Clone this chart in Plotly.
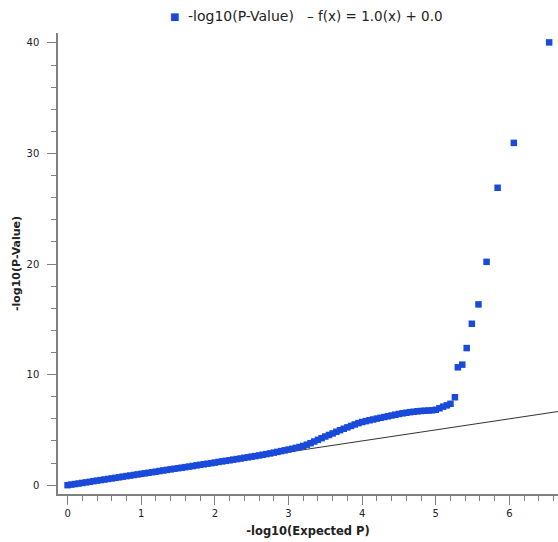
import plotly.graph_objects as go

expected_p = [
    0.00, 0.05, 0.10, 0.15, 0.20, 0.25, 0.30, 0.35, 0.40, 0.45,
    0.50, 0.55, 0.60, 0.65, 0.70, 0.75, 0.80, 0.85, 0.90, 0.95,
    1.00, 1.05, 1.10, 1.15, 1.20, 1.25, 1.30, 1.35, 1.40, 1.45,
    1.50, 1.55, 1.60, 1.65, 1.70, 1.75, 1.80, 1.85, 1.90, 1.95,
    2.00, 2.05, 2.10, 2.15, 2.20, 2.25, 2.30, 2.35, 2.40, 2.45,
    2.50, 2.55, 2.60, 2.65, 2.70, 2.75, 2.80, 2.85, 2.90, 2.95,
    3.00, 3.05, 3.10, 3.15, 3.20, 3.25, 3.30, 3.35, 3.40, 3.45,
    3.50, 3.55, 3.60, 3.65, 3.70, 3.75, 3.80, 3.85, 3.90, 3.95,
    4.00, 4.05, 4.10, 4.15, 4.20, 4.25, 4.30, 4.35, 4.40, 4.45,
    4.50, 4.55, 4.60, 4.65, 4.70, 4.75, 4.80, 4.85, 4.90, 4.95,
    5.00, 5.05, 5.10, 5.15, 5.20,
    5.26, 5.30, 5.36, 5.42, 5.49, 5.58, 5.69, 5.84, 6.06, 6.54,
]
observed_p = [
    0.00, 0.05, 0.10, 0.15, 0.20, 0.25, 0.30, 0.36, 0.41, 0.46,
    0.51, 0.56, 0.61, 0.66, 0.71, 0.77, 0.82, 0.87, 0.92, 0.97,
    1.02, 1.07, 1.12, 1.17, 1.22, 1.28, 1.33, 1.38, 1.43, 1.48,
    1.53, 1.58, 1.63, 1.68, 1.73, 1.79, 1.84, 1.89, 1.94, 1.99,
    2.04, 2.10, 2.15, 2.20, 2.25, 2.31, 2.36, 2.41, 2.47, 2.52,
    2.58, 2.63, 2.69, 2.75, 2.81, 2.87, 2.94, 3.01, 3.08, 3.15,
    3.22, 3.29, 3.37, 3.45, 3.55, 3.66, 3.80, 3.95, 4.10, 4.25,
    4.40, 4.54, 4.68, 4.83, 4.97, 5.10, 5.23, 5.36, 5.49, 5.61,
    5.71, 5.79, 5.87, 5.94, 6.02, 6.09, 6.16, 6.23, 6.30, 6.37,
    6.44, 6.50, 6.55, 6.60, 6.64, 6.68, 6.71, 6.73, 6.75, 6.77,
    6.82, 6.95, 7.10, 7.22, 7.36,
    7.95, 10.66, 10.90, 12.40, 14.60, 16.35, 20.20, 26.90, 30.96, 40.05,
]

fit_x = [0.0, 7.0]
fit_y = [0.0, 7.0]

x_ticks = [0, 1, 2, 3, 4, 5, 6]
y_ticks = [0, 10, 20, 30, 40]

BLUE = "#1a4ad9"
FONT = "DejaVu Sans"
TXT = "#222222"
AX = "#808080"
LEG_Y = 1 + (33 - 16.5) / 461

fig = go.Figure()
fig.add_trace(go.Scatter(
    x=fit_x, y=fit_y, mode="lines", name="f(x) = 1.0(x) + 0.0",
    line=dict(color="#333333", width=1), showlegend=False, hoverinfo="skip",
))
fig.add_trace(go.Scatter(
    x=expected_p, y=observed_p, mode="markers", name="-log10(P-Value)",
    marker=dict(symbol="square", size=6.5, color=BLUE, line=dict(width=0)),
    showlegend=False,
))

fig.update_layout(
    width=558, height=542,
    margin=dict(l=58, r=0, t=33, b=48),
    paper_bgcolor="white", plot_bgcolor="white",
    font=dict(family=FONT, color=TXT, size=10),
    xaxis=dict(
        range=[-0.13, 6.66], tickvals=x_ticks, ticktext=[str(v) for v in x_ticks],
        showgrid=False, zeroline=False, showline=True, linecolor=AX, linewidth=1.5,
        ticks="outside", ticklen=9, tickcolor=AX, tickwidth=1,
        minor=dict(dtick=0.2, tick0=0, ticks="outside", ticklen=5, tickcolor=AX),
        tickfont=dict(size=10, color=TXT),
        title=dict(text="<b>-log10(Expected P)</b>", font=dict(size=11.5, color=TXT), standoff=9),
        automargin=False,
    ),
    yaxis=dict(
        range=[-0.8, 40.9], tickvals=y_ticks, ticktext=[str(v) for v in y_ticks],
        showgrid=False, zeroline=False, showline=True, linecolor=AX, linewidth=1.5,
        ticks="outside", ticklen=9, tickcolor=AX, tickwidth=1,
        minor=dict(dtick=2, tick0=0, ticks="outside", ticklen=5, tickcolor=AX),
        tickfont=dict(size=10, color=TXT), ticklabelstandoff=6,
        title=dict(text="<b>-log10(P-Value)</b>", font=dict(size=11, color=TXT), standoff=4),
        automargin=False,
    ),
    annotations=[
        dict(text="■", x=(174 - 58) / 500, y=LEG_Y,
             xref="paper", yref="paper", xanchor="center", yanchor="middle",
             showarrow=False, font=dict(size=10, color=BLUE, family=FONT)),
        dict(text="-log10(P-Value)", x=(186 - 58) / 500, y=LEG_Y,
             xref="paper", yref="paper", xanchor="left", yanchor="middle",
             showarrow=False, font=dict(size=14, color=TXT, family=FONT)),
        dict(text="– f(x) = 1.0(x) + 0.0", x=(445 - 58) / 500, y=LEG_Y,
             xref="paper", yref="paper", xanchor="right", yanchor="middle",
             showarrow=False, font=dict(size=13.5, color=TXT, family=FONT)),
    ],
)

fig.write_html("out.html")
